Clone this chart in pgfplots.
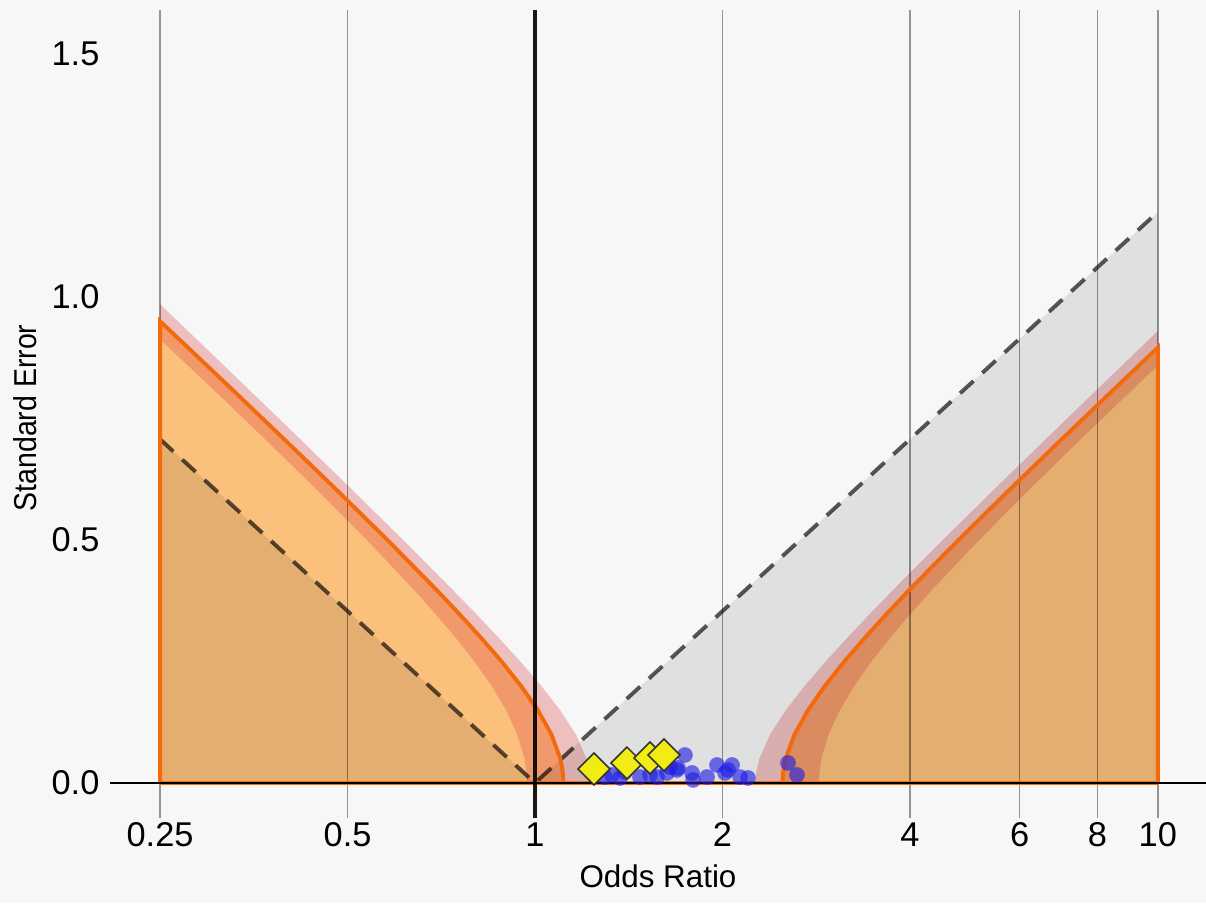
\documentclass[border=0pt]{standalone}
\usepackage{fontspec}
\setmainfont{Liberation Sans}
\usepackage{graphicx}
\usepackage{pgfplots}
\pgfplotsset{compat=1.18}
\usetikzlibrary{backgrounds}
\definecolor{bgc}{RGB}{247,247,247}
\definecolor{orfill}{RGB}{252,192,125}
\definecolor{orline}{RGB}{242,106,12}
\definecolor{bandred}{RGB}{217,64,64}
\definecolor{dotblue}{RGB}{30,30,230}
\definecolor{diay}{RGB}{240,236,20}
\begin{document}
\begin{tikzpicture}[show background rectangle, background rectangle/.style={fill=bgc,draw=none}, inner frame sep=0pt]
\begin{axis}[
  scale only axis, width=363.5pt, height=268pt,
  xmode=log, xmin=0.2078, xmax=11.95, ymin=-0.072, ymax=1.5905,
  axis line style={draw=none},
  tick style={draw=none},
  xtick={0.25,0.5,1,2,4,6,8,10},
  xticklabels={0.25,0.5,1,2,4,6,8,10},
  ytick={0,0.5,1,1.5},
  yticklabels={0.0,0.5,1.0,1.5},
  tick label style={font=\fontsize{11.4}{13}\selectfont, text=black},
  xticklabel style={anchor=base, yshift=-9.3pt},
  xlabel={Odds Ratio},
  xlabel style={font=\fontsize{10.4}{12}\selectfont, at={(axis description cs:0.5,0)}, anchor=base, yshift=-23pt},
  ylabel={\scalebox{0.9}[1]{Standard Error}},
  ylabel style={font=\fontsize{10.5}{12}\selectfont, at={(axis description cs:-0.0776,0.495)}, anchor=center},
]
\coordinate (A) at (rel axis cs:0,0);
\coordinate (B) at (rel axis cs:1,1);
% orange significance regions
\addplot[fill=orfill, draw=none] coordinates {(0.25,0) (0.25,0.950) (0.2750,0.9) (0.3323,0.8) (0.4010,0.7) (0.4829,0.6) (0.5794,0.5) (0.6915,0.4) (0.7531,0.35) (0.8175,0.3) (0.8836,0.25) (0.9491,0.2) (1.0105,0.15) (1.0624,0.1) (1.0980,0.05) (1.1075,0.025) (1.1107,0)} -- cycle;
\addplot[fill=orfill, draw=none] coordinates {(2.4967,0) (2.5041,0.025) (2.5258,0.05) (2.6104,0.1) (2.7444,0.15) (2.9219,0.2) (3.1387,0.25) (3.3922,0.3) (3.6826,0.35) (4.0103,0.4) (4.7865,0.5) (5.7442,0.6) (6.9160,0.7) (8.3452,0.8) (10,0.8957) (10,0)} -- cycle;
% red uncertainty bands
\addplot[fill=bandred, fill opacity=0.3, draw=none] coordinates {(0.25,0.985) (0.2932,0.9) (0.3534,0.8) (0.4255,0.7) (0.5117,0.6) (0.6140,0.5) (0.7342,0.4) (0.8013,0.35) (0.8724,0.3) (0.9470,0.25) (1.0230,0.2) (1.0970,0.15) (1.1627,0.1) (1.2099,0.05) (1.2230,0.025) (1.2275,0) (0.9704,0) (0.9682,0.025) (0.9617,0.05) (0.9366,0.1) (0.8985,0.15) (0.8514,0.2) (0.7991,0.25) (0.7446,0.3) (0.6898,0.35) (0.6364,0.4) (0.5368,0.5) (0.4491,0.6) (0.3738,0.7) (0.3100,0.8) (0.25,0.913)} -- cycle;
\addplot[fill=bandred, fill opacity=0.3, draw=none] coordinates {(2.2591,0) (2.2674,0.025) (2.2920,0.05) (2.3852,0.1) (2.5279,0.15) (2.7108,0.2) (2.9284,0.25) (3.1787,0.3) (3.4610,0.35) (3.7770,0.4) (4.5167,0.5) (5.4199,0.6) (6.5177,0.7) (7.8480,0.8) (9.4584,0.9) (10,0.930) (10,0.859) (8.9452,0.8) (7.4189,0.7) (6.1745,0.6) (5.1659,0.5) (4.3576,0.4) (4.0201,0.35) (3.7248,0.3) (3.4702,0.25) (3.2570,0.2) (3.0864,0.15) (2.9609,0.1) (2.8838,0.05) (2.8642,0.025) (2.8577,0)} -- cycle;
% funnel
\addplot[fill=black, fill opacity=0.09, draw=none] coordinates {(0.25,0) (0.25,0.7073) (1,0) (10,1.1748) (10,0)} -- cycle;
% grid lines
\foreach \g in {0.25,0.5,2,4,6,8,10} {
  \edef\tmp{\noexpand\draw[black, draw opacity=0.4, line width=0.5pt] (axis cs:\g,-0.072) -- (axis cs:\g,1.5905);}
  \tmp
}
% dashed funnel lines
\addplot[draw=black, draw opacity=0.65, line width=1.3pt, dash pattern=on 6pt off 4pt] coordinates {(0.25,0.7073) (1,0) (10,1.1748)};
% orange contour lines
\addplot[orline, line width=1.3pt] coordinates {(0.25,0) (0.25,0.950) (0.2750,0.9) (0.3323,0.8) (0.4010,0.7) (0.4829,0.6) (0.5794,0.5) (0.6915,0.4) (0.7531,0.35) (0.8175,0.3) (0.8836,0.25) (0.9491,0.2) (1.0105,0.15) (1.0624,0.1) (1.0980,0.05) (1.1075,0.025) (1.1107,0)};
\addplot[orline, line width=1.3pt] coordinates {(2.4967,0) (2.5041,0.025) (2.5258,0.05) (2.6104,0.1) (2.7444,0.15) (2.9219,0.2) (3.1387,0.25) (3.3922,0.3) (3.6826,0.35) (4.0103,0.4) (4.7865,0.5) (5.7442,0.6) (6.9160,0.7) (8.3452,0.8) (10,0.8957) (10,0)};
\addplot[orline, line width=1.3pt] coordinates {(0.25,0) (10,0)};
% reference lines
\addplot[black, draw opacity=0.9, line width=1.3pt] coordinates {(1,-0.072) (1,1.5905)};
\addplot[black, line width=0.6pt] coordinates {(0.2078,0) (11.95,0)};
% studies
\addplot[only marks, color=dotblue, mark=*, mark size=2.6pt, mark options={fill=dotblue, draw=none, draw opacity=0, fill opacity=0.62}] coordinates {
(1.295,0.0123) (1.329,0.0165) (1.369,0.0103) (1.395,0.0226) (1.474,0.0123) (1.530,0.0165) (1.570,0.0123) (1.629,0.0206) (1.647,0.0329) (1.690,0.0267) (1.697,0.031) (1.741,0.0576) (1.787,0.0206) (1.794,0.0062) (1.889,0.0123) (1.960,0.037) (2.019,0.0206) (2.041,0.0267) (2.072,0.037) (2.134,0.0123) (2.198,0.0103) (2.548,0.0412) (2.634,0.0165)};
\addplot[only marks, mark=square*, mark size=3.75pt, mark options={rotate=45, fill=diay, draw=black!80, line width=0.5pt}] coordinates {
(1.2437,0.0288) (1.405,0.041) (1.530,0.0514) (1.611,0.0576)};
\end{axis}
\pgfresetboundingbox
\path ([xshift=-36.5pt,yshift=-28.2pt]A) rectangle ([yshift=3.3pt]B);
\end{tikzpicture}
\end{document}
